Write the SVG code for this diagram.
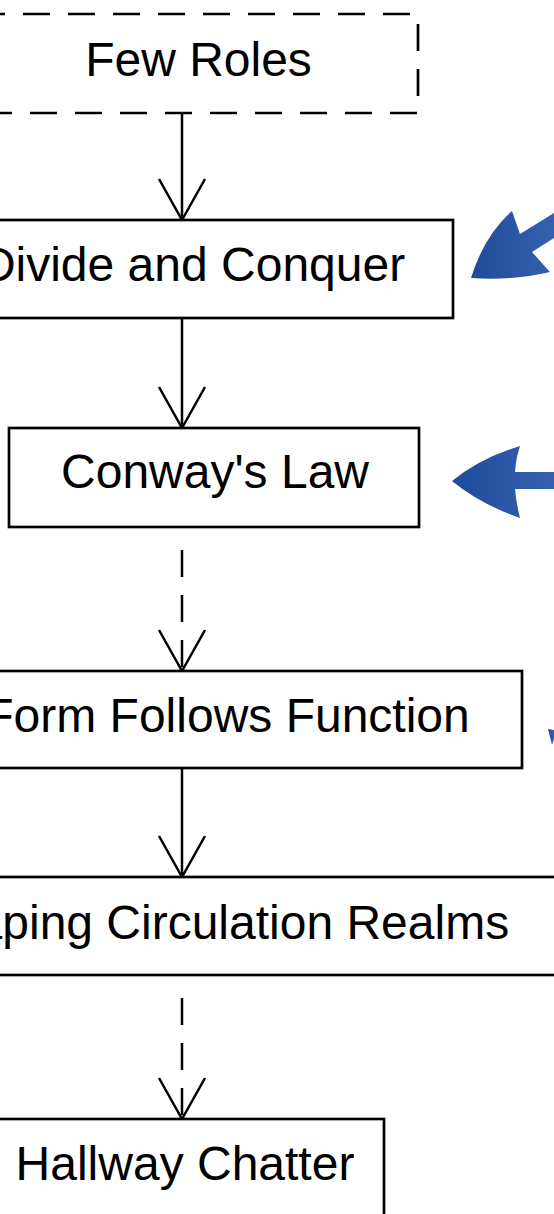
<svg xmlns="http://www.w3.org/2000/svg" width="554" height="1214" viewBox="0 0 554 1214">
  <style>
    .box { fill: #ffffff; stroke: #000000; stroke-width: 2.7; }
    .dashed { stroke-dasharray: 27 18; }
    .label { font-family: "Liberation Sans", Arial, Helvetica, sans-serif; font-size: 48px; fill: #000000; text-anchor: middle; }
    .edge { fill: none; stroke: #000000; stroke-width: 2.5; }
    .blue { fill: url(#blueFill); }
  </style>
  <defs>
    <marker id="openV" markerUnits="userSpaceOnUse" viewBox="-45 -26 50 52" markerWidth="50" markerHeight="52" refX="0" refY="0" orient="auto" overflow="visible">
      <path d="M-41,-23 L0,0 L-41,23" fill="none" stroke="#000000" stroke-width="2.5" stroke-dasharray="none"/>
    </marker>
    <linearGradient id="blueFill" x1="0" y1="0" x2="1" y2="0">
      <stop offset="0" stop-color="#1f4b9a"/>
      <stop offset="1" stop-color="#3460ae"/>
    </linearGradient>
  </defs>

  <rect width="554" height="1214" fill="#ffffff"/>

  <!-- connectors -->
  <g id="connectors">
    <path class="edge" d="M182,113 L182,220" marker-end="url(#openV)"/>
    <path class="edge" d="M182,318 L182,428" marker-end="url(#openV)"/>
    <path class="edge dashed" d="M182,550 L182,671" marker-end="url(#openV)"/>
    <path class="edge" d="M182,768 L182,877" marker-end="url(#openV)"/>
    <path class="edge dashed" d="M182,998 L182,1119" marker-end="url(#openV)"/>
  </g>

  <!-- nodes -->
  <g id="few-roles">
    <rect class="box dashed" x="-22" y="14" width="440" height="99"/>
    <text class="label" x="198.5" y="76">Few Roles</text>
  </g>
  <g id="divide-and-conquer">
    <rect class="box" x="-67" y="220" width="520" height="98"/>
    <text class="label" x="193" y="281">Divide and Conquer</text>
  </g>
  <g id="conways-law">
    <rect class="box" x="9" y="428" width="410" height="99"/>
    <text class="label" x="215" y="488">Conway's Law</text>
  </g>
  <g id="form-follows-function">
    <rect class="box" x="-67" y="671" width="589" height="97"/>
    <text class="label" x="227" y="732">Form Follows Function</text>
  </g>
  <g id="shaping-circulation-realms">
    <rect class="box" x="-133" y="877" width="700" height="98"/>
    <text class="label" x="213" y="939">Shaping Circulation Realms</text>
  </g>
  <g id="hallway-chatter">
    <rect class="box" x="-14" y="1119" width="398" height="120"/>
    <text class="label" x="185" y="1180">Hallway Chatter</text>
  </g>

  <!-- blue pointer arrows at the right margin -->
  <g id="pointers">
    <path class="blue" d="M554,213 L520,234 L512,211 Q484,236 471,278 Q512,281 550,272 L532,252 L554,238 Z"/>
    <path class="blue" d="M554,472 L515,472 Q516,458 520,446 Q480,458 452,481 Q480,504 520,518 Q516,502 515,489 L554,489 Z"/>
    <path class="blue" d="M548,729 L554,730 L554,739 L552,745 Z"/>
  </g>
</svg>
